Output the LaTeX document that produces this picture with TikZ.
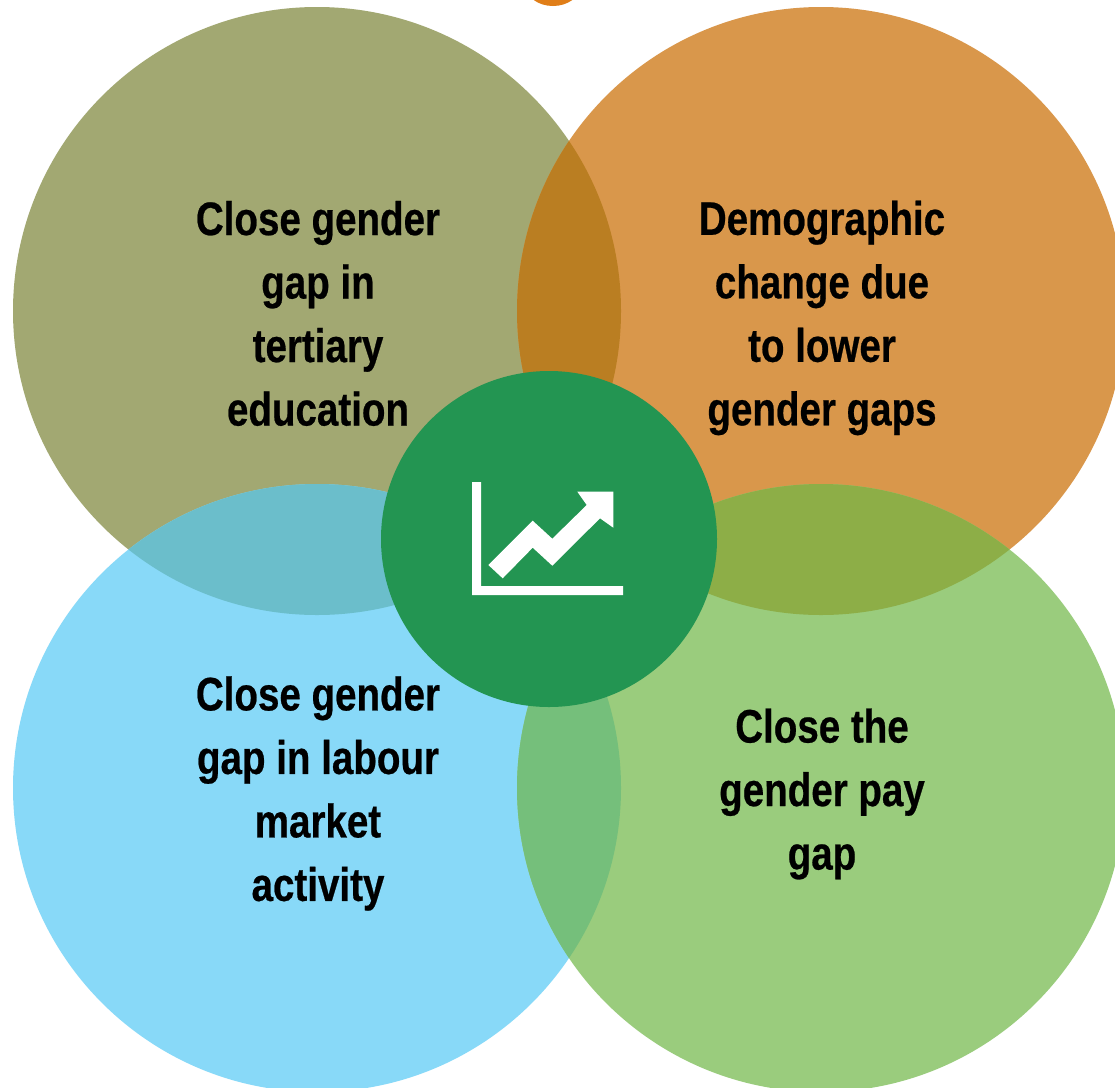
\documentclass[tikz,border=0pt]{standalone}
\usepackage{fontspec}
\setmainfont[FakeStretch=0.82,BoldFeatures={FakeBold=0.5}]{Liberation Sans}
\definecolor{olivec}{HTML}{A2A872}
\definecolor{orangec}{HTML}{D9974B}
\definecolor{bluec}{HTML}{88D9F8}
\definecolor{greenc}{HTML}{9ACC7D}
\definecolor{oo}{HTML}{BA7E22}
\definecolor{ob}{HTML}{6BBECB}
\definecolor{og}{HTML}{8DAE47}
\definecolor{bg}{HTML}{75BF7B}
\definecolor{hubc}{HTML}{239552}
\definecolor{topc}{HTML}{E07E18}
\tikzset{
  lbl/.style={align=center,font=\fontsize{47}{63.5}\selectfont\bfseries,text=black,inner sep=0pt}
}
\begin{document}
\begin{tikzpicture}[x=1pt,y=-1pt]
\useasboundingbox (0,0) rectangle (1115,1087);
\clip (0,0) rectangle (1115,1087);
\fill[white] (0,0) rectangle (1115,1087);
\fill[topc] (553,-14) ellipse (27 and 20);
\def\R{304}
\coordinate (A) at (317,311);
\coordinate (B) at (821,311);
\coordinate (C) at (317,788);
\coordinate (D) at (821,788);
\fill[olivec] (A) circle (\R);
\fill[orangec] (B) circle (\R);
\fill[bluec] (C) circle (\R);
\fill[greenc] (D) circle (\R);
\begin{scope}\clip (A) circle (\R); \fill[oo] (B) circle (\R); \end{scope}
\begin{scope}\clip (A) circle (\R); \fill[ob] (C) circle (\R); \end{scope}
\begin{scope}\clip (B) circle (\R); \fill[og] (D) circle (\R); \end{scope}
\begin{scope}\clip (C) circle (\R); \fill[bg] (D) circle (\R); \end{scope}
\fill[hubc] (549,539) circle (168);
\fill[white] (472,482) -- (481,482) -- (481,586) -- (623,586) -- (623,595) -- (472,595) -- cycle;
\fill[white] (488.3,565) -- (532.7,520.7) -- (552.3,538.7) -- (586.7,505) -- (577.3,491.7) -- (613.3,491.7) -- (613.3,527.7) -- (600,518.3) -- (552.3,565.7) -- (532.7,547.7) -- (502.7,578.3) -- cycle;
\node[lbl] (ta) at (318,313.5) {Close gender\\gap in\\tertiary\\education};
\node[lbl] (tb) at (822,318) {Demographic\\change due\\to lower\\gender gaps};
\node[lbl] (tc) at (318,793.5) {Close gender\\gap in labour\\market\\activity};
\node[lbl] (td) at (822,794) {Close the\\gender pay\\gap};
\end{tikzpicture}
\end{document}
